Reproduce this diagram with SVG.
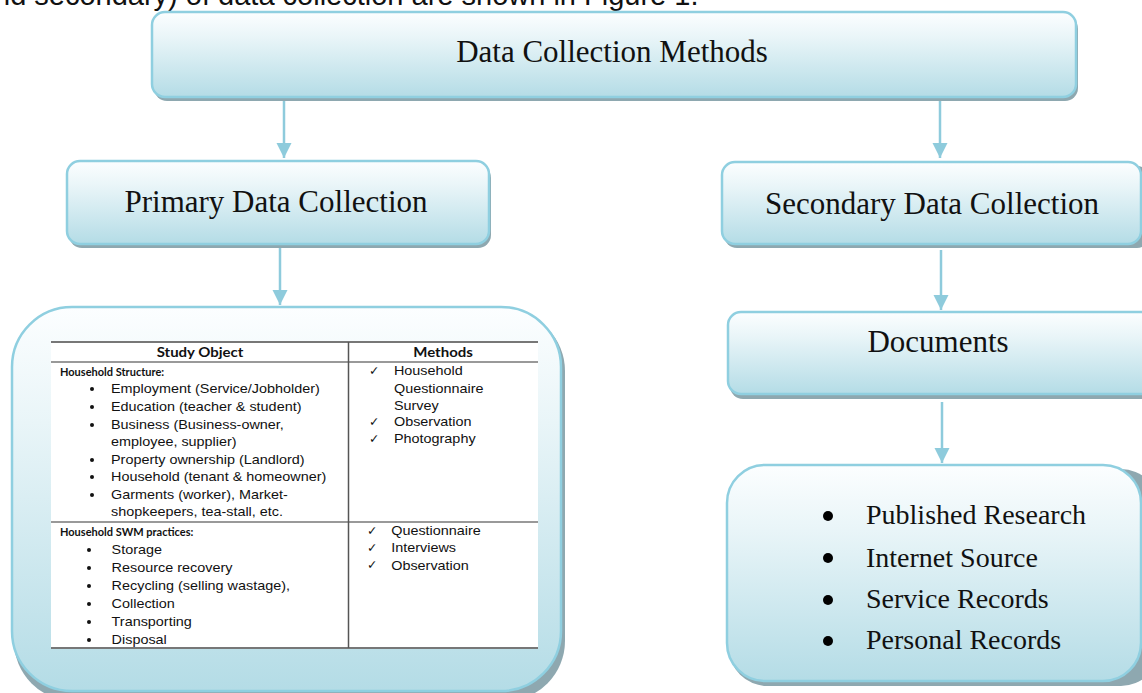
<svg xmlns="http://www.w3.org/2000/svg" width="1142" height="693" viewBox="0 0 1142 693">
<style>
.box{fill:url(#g);stroke:#8fcfe0;stroke-width:2.5}
.sh{fill:#8ea8b0}
.title{font-family:"Liberation Serif","Times New Roman",serif;font-size:31px;fill:#111;text-anchor:middle}
.item{font-family:"Liberation Serif","Times New Roman",serif;font-size:28px;fill:#111}
.conn line{stroke:#8ecbdc;stroke-width:2.5}
.tb{font-family:"Liberation Sans",Arial,sans-serif;font-size:12px;fill:#111}
.hd{font-family:Lato,"Liberation Sans",sans-serif;font-weight:bold;font-size:12.5px;fill:#111}
.sub{font-family:Lato,"Liberation Sans",sans-serif;font-weight:bold;font-size:11px;fill:#111}
.ck{font-family:"DejaVu Sans",sans-serif;font-size:12.5px;fill:#111}
.tl{stroke:#777;stroke-width:2}
</style>
<defs>
<linearGradient id="g" x1="0" y1="0" x2="0" y2="1">
<stop offset="0" stop-color="#fcfeff"/>
<stop offset="0.3" stop-color="#e9f5f8"/>
<stop offset="1" stop-color="#b4dce6"/>
</linearGradient>
<marker id="ah" markerUnits="userSpaceOnUse" markerWidth="16" markerHeight="16" refX="15" refY="7.5" orient="auto">
<path d="M0,0 L15,7.5 L0,15 z" fill="#8ecbdc"/>
</marker>
</defs>

<text x="-6" y="5" font-family="'Liberation Sans',Arial,sans-serif" font-size="29" fill="#111">nd secondary) of data collection are shown in Figure 1.</text>

<g id="connectors" class="conn">
<line x1="284" y1="100" x2="284" y2="158" marker-end="url(#ah)"/>
<line x1="940" y1="100" x2="940" y2="158" marker-end="url(#ah)"/>
<line x1="280" y1="248" x2="280" y2="305" marker-end="url(#ah)"/>
<line x1="941" y1="250" x2="941" y2="310" marker-end="url(#ah)"/>
<line x1="942" y1="402" x2="942" y2="463" marker-end="url(#ah)"/>
</g>

<g id="node-methods">
<rect class="sh" x="154" y="16" width="924" height="85" rx="13"/>
<rect class="box" x="152" y="12" width="924" height="85" rx="13"/>
<text class="title" x="612" y="62">Data Collection Methods</text>
</g>

<g id="node-primary">
<rect class="sh" x="69" y="165" width="422" height="83" rx="13"/>
<rect class="box" x="67" y="161" width="422" height="83" rx="13"/>
<text class="title" x="276" y="212">Primary Data Collection</text>
</g>

<g id="node-secondary">
<rect class="sh" x="724" y="166" width="426" height="82" rx="13"/>
<rect class="box" x="722" y="162" width="419" height="82" rx="13"/>
<text class="title" x="932" y="214">Secondary Data Collection</text>
</g>

<g id="node-documents">
<rect class="sh" x="730" y="316" width="430" height="83" rx="13"/>
<rect class="box" x="728" y="312" width="430" height="82" rx="13"/>
<text class="title" x="938" y="352">Documents</text>
</g>

<g id="node-sources">
<rect class="sh" x="729" y="469" width="430" height="217" rx="38"/>
<rect class="box" x="727" y="465" width="414" height="216" rx="38"/>
<circle cx="828" cy="516" r="5"/>
<circle cx="828" cy="558" r="5"/>
<circle cx="828" cy="600" r="5"/>
<circle cx="828" cy="641" r="5"/>
<text class="item" x="866" y="524">Published Research</text>
<text class="item" x="866" y="567">Internet Source</text>
<text class="item" x="866" y="608">Service Records</text>
<text class="item" x="866" y="649">Personal Records</text>
</g>

<g id="node-primary-table">
<rect class="sh" x="14" y="311" width="551" height="390" rx="60"/>
<rect class="box" x="12" y="307" width="549" height="384" rx="60"/>
<rect x="51" y="341" width="487" height="308" fill="#fff"/>
<line class="tl" x1="51" y1="342" x2="538" y2="342"/>
<line x1="51" y1="362" x2="538" y2="362" stroke="#777" stroke-width="1.5"/>
<line x1="51" y1="522" x2="538" y2="522" stroke="#777" stroke-width="1.5"/>
<line class="tl" x1="51" y1="648" x2="538" y2="648"/>
<line x1="348.5" y1="342" x2="348.5" y2="648" stroke="#555" stroke-width="1.5"/>
<g fill="#111">
<circle cx="92" cy="389" r="2"/>
<circle cx="92" cy="407" r="2"/>
<circle cx="92" cy="425" r="2"/>
<circle cx="92" cy="460" r="2"/>
<circle cx="92" cy="477" r="2"/>
<circle cx="92" cy="495" r="2"/>
<circle cx="89" cy="550" r="2"/>
<circle cx="89" cy="568" r="2"/>
<circle cx="89" cy="586" r="2"/>
<circle cx="89" cy="604" r="2"/>
<circle cx="89" cy="622" r="2"/>
<circle cx="89" cy="640" r="2"/>
</g>
<text class="sub" x="60" y="376">Household Structure:</text>
<text class="sub" x="60" y="536">Household SWM practices:</text>
<text class="ck" x="369" y="375">✓</text>
<text class="ck" x="369" y="426">✓</text>
<text class="ck" x="369" y="443">✓</text>
<text class="ck" x="367" y="535">✓</text>
<text class="ck" x="367" y="552">✓</text>
<text class="ck" x="367" y="569">✓</text>
<g transform="matrix(1.2 0 0 1 0 0)">
<text class="hd" x="166.7" y="357" text-anchor="middle">Study Object</text>
<text class="hd" x="369.2" y="357" text-anchor="middle">Methods</text>
<text class="tb" x="92.5" y="393.5">Employment (Service/Jobholder)</text>
<text class="tb" x="92.5" y="411.5">Education (teacher &amp; student)</text>
<text class="tb" x="92.5" y="429.5">Business (Business-owner,</text>
<text class="tb" x="92.5" y="446.5">employee, supplier)</text>
<text class="tb" x="92.5" y="464.5">Property ownership (Landlord)</text>
<text class="tb" x="92.5" y="481.5">Household (tenant &amp; homeowner)</text>
<text class="tb" x="92.5" y="499">Garments (worker), Market-</text>
<text class="tb" x="92.5" y="516.5">shopkeepers, tea-stall, etc.</text>
<text class="tb" x="328.3" y="375.5">Household</text>
<text class="tb" x="328.3" y="393">Questionnaire</text>
<text class="tb" x="328.3" y="410">Survey</text>
<text class="tb" x="328.3" y="426.5">Observation</text>
<text class="tb" x="328.3" y="443.5">Photography</text>
<text class="tb" x="93" y="554">Storage</text>
<text class="tb" x="93" y="572">Resource recovery</text>
<text class="tb" x="93" y="590.5">Recycling (selling wastage),</text>
<text class="tb" x="93" y="608">Collection</text>
<text class="tb" x="93" y="626">Transporting</text>
<text class="tb" x="93" y="644">Disposal</text>
<text class="tb" x="326" y="535.5">Questionnaire</text>
<text class="tb" x="326" y="552.5">Interviews</text>
<text class="tb" x="326" y="570">Observation</text>
</g>
</g>
</svg>
